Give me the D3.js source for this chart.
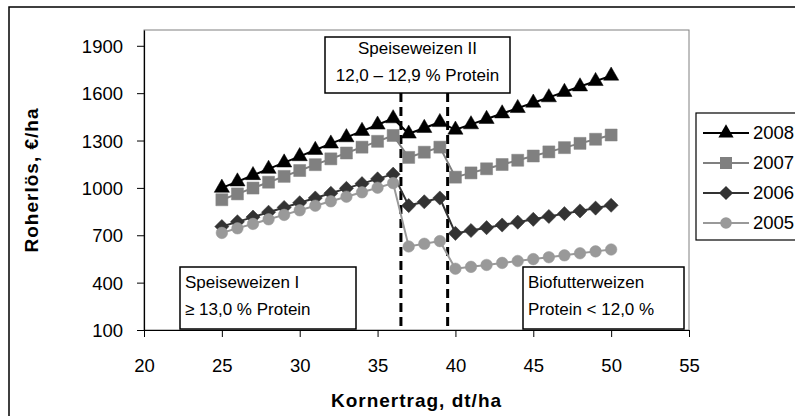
<!DOCTYPE html>
<html>
<head>
<meta charset="utf-8">
<script src="https://cdn.jsdelivr.net/npm/d3@7/dist/d3.min.js"></script>
<style>
  body { margin: 0; background: #fff; }
  text { font-family: "Liberation Sans", Arial, sans-serif; }
</style>
</head>
<body>
<div id="chart"></div>
<script>
// data
var kornertrag = [25,26,27,28,29,30,31,32,33,34,35,36,37,38,39,40,41,42,43,44,45,46,47,48,49,50];
var years = ["2008","2007","2006","2005"];
var erloes2008 = [1000,1040,1080,1120,1160,1200,1240,1280,1320,1360,1400,1440,1343,1379,1416,1368,1402,1436,1471,1505,1539,1573,1607,1642,1676,1710];
var erloes2007 = [925,962,999,1036,1073,1110,1147,1184,1221,1258,1295,1332,1193,1226,1258,1068,1095,1121,1148,1175,1202,1228,1255,1282,1308,1335];
var erloes2006 = [755,785,815,846,876,906,936,966,997,1027,1057,1087,888,912,936,712,730,748,765,783,801,819,837,854,872,890];
var erloes2005 = [715,744,772,801,829,858,887,915,944,972,1001,1030,629,646,663,488,500,512,525,537,549,561,573,586,598,610];
var xTicks = [20,25,30,35,40,45,50,55];
var yTicks = [100,400,700,1000,1300,1600,1900];
var grenzen = [36.5, 39.5];

var series = [
  {name: years[0], values: erloes2008, color: "#000000", symbol: "triangle"},
  {name: years[1], values: erloes2007, color: "#808080", symbol: "square"},
  {name: years[2], values: erloes2006, color: "#333333", symbol: "diamond"},
  {name: years[3], values: erloes2005, color: "#999999", symbol: "circle"}
];

var width = 795, height = 416;
var margin = {left: 144, top: 30, right: 106, bottom: 86};
var drawWidth = width - margin.left - margin.right;
var drawHeight = height - margin.top - margin.bottom;

var svg = d3.select("#chart").append("svg")
    .attr("width", width)
    .attr("height", height);

// outer chart frame (runs off the right and bottom edge)
svg.append("rect")
   .attr("x", 9).attr("y", 7)
   .attr("width", 900).attr("height", 500)
   .attr("fill", "#fff")
   .attr("stroke", "#000")
   .attr("stroke-width", 1.5);

var canvas = svg.append("g")
   .attr("transform", "translate(" + margin.left + "," + margin.top + ")");

var x = d3.scaleLinear().domain([20, 55]).range([0, drawWidth]);
var y = d3.scaleLinear().domain([100, 2000]).range([drawHeight, 0]);

// plot area border
canvas.append("rect")
   .attr("x", 0).attr("y", 0)
   .attr("width", drawWidth).attr("height", drawHeight)
   .attr("fill", "none")
   .attr("stroke", "#808080")
   .attr("stroke-width", 1);

// axes
var xAxis = canvas.append("g")
   .attr("transform", "translate(0," + drawHeight + ")")
   .call(d3.axisBottom(x).tickValues(xTicks).tickSize(7).tickSizeOuter(0).tickPadding(22).tickFormat(d3.format("d")));
var yAxis = canvas.append("g")
   .call(d3.axisLeft(y).tickValues(yTicks).tickSize(7).tickSizeOuter(0).tickPadding(14).tickFormat(d3.format("d")));

[xAxis, yAxis].forEach(function(a){
  a.select(".domain").attr("stroke", "#000").attr("stroke-width", 1.2);
  a.selectAll(".tick line").attr("stroke", "#000");
  a.selectAll(".tick text")
   .attr("font-family", "Liberation Sans, Arial, sans-serif")
   .attr("font-size", 18.5)
   .attr("fill", "#000");
});
yAxis.selectAll(".tick text").attr("dy", "0.35em");

// axis titles
canvas.append("text")
   .attr("text-anchor", "middle")
   .attr("transform", "rotate(-90)")
   .attr("x", -drawHeight / 2)
   .attr("y", -106)
   .attr("font-size", 19)
   .attr("font-weight", "bold")
   .attr("letter-spacing", 1)
   .text("Roherlös, €/ha");

canvas.append("text")
   .attr("text-anchor", "middle")
   .attr("x", drawWidth / 2)
   .attr("y", drawHeight + 77)
   .attr("font-size", 19)
   .attr("font-weight", "bold")
   .attr("letter-spacing", 1)
   .text("Kornertrag, dt/ha");

// annotation boxes
var boxes = [
  {x: 180, y: 267, w: 176, h: 62, base: 21, lines: ["Speiseweizen I", "≥ 13,0 % Protein"], anchor: "start"},
  {x: 325, y: 37, w: 185, h: 56, base: 17, lines: ["Speiseweizen II", "12,0 – 12,9 % Protein"], anchor: "middle"},
  {x: 523, y: 267, w: 161, h: 62, base: 21, lines: ["Biofutterweizen", "Protein < 12,0 %"], anchor: "start"}
];

// dashed class borders
canvas.selectAll(".grenze")
   .data(grenzen)
   .enter().append("line")
   .attr("class", "grenze")
   .attr("x1", function(d){ return x(d); })
   .attr("x2", function(d){ return x(d); })
   .attr("y1", 93 - margin.top)
   .attr("y2", drawHeight)
   .attr("stroke", "#000")
   .attr("stroke-width", 3)
   .attr("stroke-dasharray", "9,5");

var box = svg.selectAll(".anno")
   .data(boxes)
   .enter().append("g")
   .attr("class", "anno");
box.append("rect")
   .attr("x", function(d){ return d.x; })
   .attr("y", function(d){ return d.y; })
   .attr("width", function(d){ return d.w; })
   .attr("height", function(d){ return d.h; })
   .attr("fill", "#fff")
   .attr("stroke", "#000")
   .attr("stroke-width", 1.5);
box.each(function(d){
  var g = d3.select(this);
  d.lines.forEach(function(t, i){
    g.append("text")
     .attr("x", d.anchor === "middle" ? d.x + d.w / 2 : d.x + 5)
     .attr("y", d.y + d.base + i * 26.5)
     .attr("text-anchor", d.anchor)
     .attr("font-size", 17)
     .text(t);
  });
});

function symbolPath(type) {
  if (type === "triangle") return d3.symbol().type(d3.symbolTriangle).size(100)();
  if (type === "square") return d3.symbol().type(d3.symbolSquare).size(144)();
  if (type === "diamond") return d3.symbol().type(d3.symbolSquare).size(100)();
  return d3.symbol().type(d3.symbolCircle).size(105)();
}

var line = d3.line()
   .x(function(d){ return x(d[0]); })
   .y(function(d){ return y(d[1]); });

series.forEach(function(s){
  var pts = kornertrag.map(function(k, i){ return [k, s.values[i]]; });
  canvas.append("path")
     .datum(pts)
     .attr("fill", "none")
     .attr("stroke", s.color)
     .attr("stroke-width", 2)
     .attr("d", line);
  canvas.selectAll(".pt-" + s.name)
     .data(pts)
     .enter().append("path")
     .attr("class", "pt-" + s.name)
     .attr("d", symbolPath(s.symbol))
     .attr("transform", function(d){
        return "translate(" + x(d[0]) + "," + y(d[1]) + ")" + (s.symbol === "diamond" ? " rotate(45)" : "");
     })
     .attr("fill", s.color)
     .attr("stroke", s.color)
     .attr("stroke-width", 0.5);
});

// legend
var legend = svg.append("g").attr("transform", "translate(696,113)");
legend.append("rect")
   .attr("x", 0).attr("y", 0)
   .attr("width", 130).attr("height", 127)
   .attr("fill", "#fff")
   .attr("stroke", "#000")
   .attr("stroke-width", 1.2);
var item = legend.selectAll(".item")
   .data(series)
   .enter().append("g")
   .attr("transform", function(d, i){ return "translate(0," + (20 + i * 30) + ")"; });
item.append("line")
   .attr("x1", 7).attr("x2", 53)
   .attr("stroke", function(d){ return d.color; })
   .attr("stroke-width", 2);
item.append("path")
   .attr("d", function(d){ return symbolPath(d.symbol); })
   .attr("transform", function(d){ return "translate(30,0)" + (d.symbol === "diamond" ? " rotate(45)" : ""); })
   .attr("fill", function(d){ return d.color; });
item.append("text")
   .attr("x", 57)
   .attr("dy", "0.35em")
   .attr("font-size", 18.5)
   .text(function(d){ return d.name; });
</script>
</body>
</html>
